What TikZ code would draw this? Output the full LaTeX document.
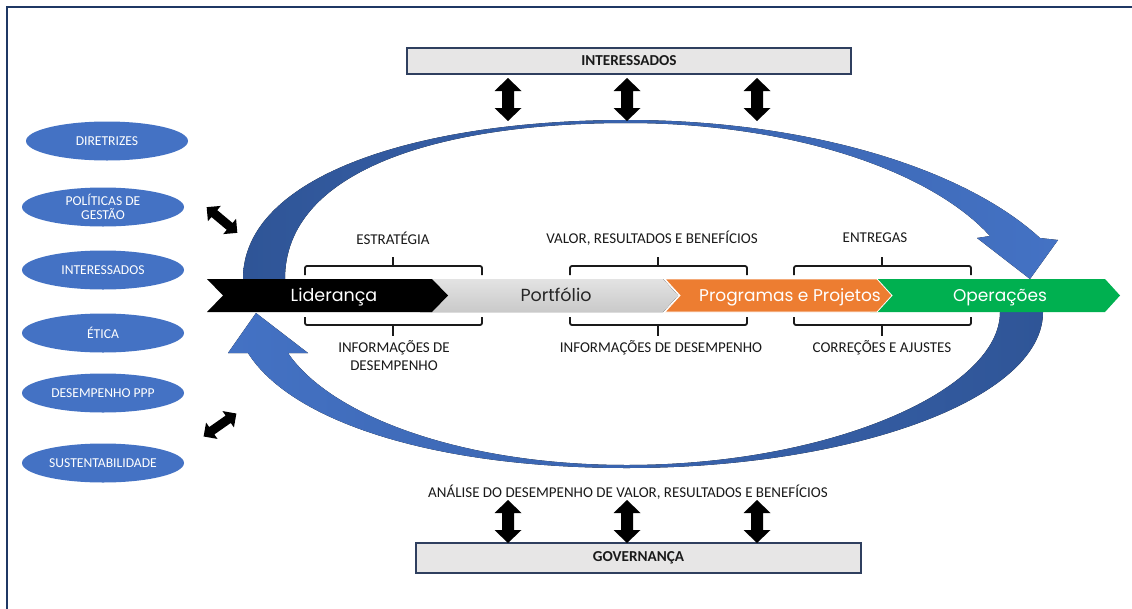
\documentclass[tikz,border=0pt]{standalone}
\usepackage{fontspec}
\setmainfont{Carlito}
\newfontfamily\popfont{Poppins}
\usetikzlibrary{shapes.geometric}
\definecolor{frameblue}{HTML}{1F3864}
\definecolor{officeblue}{HTML}{4472C4}
\definecolor{deepblue}{HTML}{2F5597}
\definecolor{boxgray}{HTML}{E7E6E6}
\definecolor{boxline}{HTML}{2F3F5F}
\definecolor{orng}{HTML}{ED7D31}
\definecolor{grn}{HTML}{00B050}
\definecolor{ink}{HTML}{1A1A1A}
\tikzset{
  lbl/.style={font=\fontsize{15}{18}\selectfont, text=ink, align=center, inner sep=0},
  oval/.style={ellipse, fill=officeblue, minimum width=162, minimum height=39, inner sep=0,
    text=white, font=\fontsize{13.6}{14.5}\selectfont, align=center},
  hdr/.style={draw=boxline, line width=1.3, fill=boxgray, inner sep=0,
    font=\bfseries\fontsize{15.2}{17}\selectfont, text=ink},
  brk/.style={line width=1.8, rounded corners=2, draw=ink},
  bandtxt/.style={font=\popfont\fontsize{17.5}{20}\selectfont, inner sep=0, anchor=base},
  dbl/.pic={\fill[black] (0,-21.5) -- (13.5,-8.5) -- (6,-8.5) -- (6,8.5) -- (13.5,8.5) -- (0,21.5)
      -- (-13.5,8.5) -- (-6,8.5) -- (-6,-8.5) -- (-13.5,-8.5) -- cycle;},
  dbls/.pic={\fill[black] (0,-20) -- (10,-10) -- (4.5,-10) -- (4.5,10) -- (10,10) -- (0,20)
      -- (-10,10) -- (-4.5,10) -- (-4.5,-10) -- (-10,-10) -- cycle;}
}
\begin{document}
\begin{tikzpicture}[x=1pt,y=-1pt]
\useasboundingbox (0,0) rectangle (1132,608);
\fill[white] (0,0) rectangle (1132,608);
% outer frame
\draw[frameblue, line width=2] (7,610) -- (7,7) -- (1134,7);

% upper cycle arrow (Liderança -> Operações)
\fill[left color=deepblue, right color=officeblue]
  (243,286) -- (243,279) .. controls (243,175) and (420,120) .. (627,120)
  .. controls (800,120) and (960,165) .. (1040,238) -- (1058,240) -- (1030,279) -- (977,238) -- (990,236)
  .. controls (930,170) and (790,123) .. (627,123)
  .. controls (440,123) and (285,170) .. (285,279) -- (285,286) -- cycle;
% lower cycle arrow (Operações -> Liderança)
\fill[left color=officeblue, right color=deepblue]
  (1043,305) -- (1043,312) .. controls (1043,400) and (850,468) .. (627,468)
  .. controls (430,468) and (290,420) .. (248,353) -- (228,353) -- (256,313) -- (308,353) -- (288,353)
  .. controls (330,415) and (460,465) .. (627,465)
  .. controls (830,465) and (1000,390) .. (1000,312) -- (1000,305) -- cycle;

% process band
\fill[top color=gray!22, bottom color=gray!42] (420,279) -- (663,279) -- (678,295.5) -- (663,312) -- (420,312) -- cycle;
\fill[black] (207,279) -- (432,279) -- (448,295.5) -- (432,312) -- (207,312) -- (223,295.5) -- cycle;
\fill[grn] (870,279) -- (1105,279) -- (1120,295.5) -- (1105,312) -- (870,312) -- cycle;
\filldraw[fill=orng, draw=white, line width=0.8] (665,279) -- (877,279) -- (892,295.5) -- (877,312) -- (665,312) -- (680,295.5) -- cycle;
\node[bandtxt, text=white] (lid) at (334,301) {Liderança};
\node[bandtxt, text=black!85] (port) at (556,301) {Portfólio};
\node[bandtxt, text=white, font=\popfont\fontsize{17}{20}\selectfont] (prog) at (790,301) {Programas e Projetos};
\node[bandtxt, text=white, font=\popfont\fontsize{17}{20}\selectfont] (oper) at (1000,301) {Operações};

% brackets above the band
\draw[brk] (305,275) -- (305,266) -- (482,266) -- (482,275);
\draw[brk] (393,266) -- (393,257);
\draw[brk] (570,275) -- (570,266) -- (747,266) -- (747,275);
\draw[brk] (658,266) -- (658,257);
\draw[brk] (794,275) -- (794,266) -- (971,266) -- (971,275);
\draw[brk] (882,266) -- (882,257);
% brackets below the band
\draw[brk] (305,317) -- (305,325) -- (482,325) -- (482,317);
\draw[brk] (393,325) -- (393,336);
\draw[brk] (570,317) -- (570,325) -- (747,325) -- (747,317);
\draw[brk] (658,325) -- (658,336);
\draw[brk] (794,317) -- (794,325) -- (971,325) -- (971,317);
\draw[brk] (882,325) -- (882,336);

\node[lbl] (estr) at (393,238) {ESTRATÉGIA};
\node[lbl] (valor) at (652,238) {VALOR, RESULTADOS E BENEFÍCIOS};
\node[lbl] (entr) at (875,238) {ENTREGAS};
\node[lbl, anchor=north] (info1) at (394,340) {INFORMAÇÕES DE\\DESEMPENHO};
\node[lbl, anchor=north] (info2) at (661,340) {INFORMAÇÕES DE DESEMPENHO};
\node[lbl, anchor=north] (corr) at (882,340) {CORREÇÕES E AJUSTES};

% stakeholders and governance
\node[hdr, minimum width=444, minimum height=26] (inter) at (629,61) {INTERESSADOS};
\node[hdr, minimum width=445, minimum height=30] (gov) at (638.5,558) {GOVERNANÇA};
\node[lbl] (anal) at (628,492) {ANÁLISE DO DESEMPENHO DE VALOR, RESULTADOS E BENEFÍCIOS};
\pic (ia) at (508,99.5) {dbl};
\pic (ib) at (627,99.5) {dbl};
\pic (ic) at (757,99.5) {dbl};
\pic (ga) at (508,521.5) {dbl};
\pic (gb) at (627,521.5) {dbl};
\pic (gc) at (757,521.5) {dbl};

% guiding themes
\node[oval] (dir) at (107,141) {DIRETRIZES};
\node[oval] (pol) at (103,207) {POLÍTICAS DE\\GESTÃO};
\node[oval] (int) at (103,270) {INTERESSADOS};
\node[oval] (eti) at (103,333) {ÉTICA};
\node[oval] (des) at (103,393) {DESEMPENHO PPP};
\node[oval] (sus) at (103,463) {SUSTENTABILIDADE};
\pic[rotate=50] (da) at (222,220) {dbls};
\pic[rotate=-55] (db) at (220,425) {dbls};
\end{tikzpicture}
\end{document}
